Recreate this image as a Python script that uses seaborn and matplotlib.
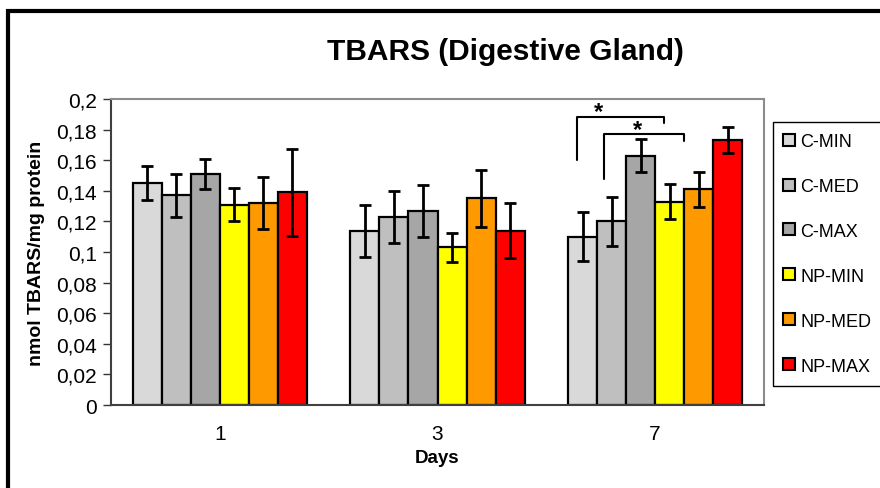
import matplotlib
matplotlib.use("Agg")
import matplotlib.pyplot as plt
import seaborn as sns
import pandas as pd
import numpy as np
from matplotlib.patches import Rectangle
from matplotlib.lines import Line2D

# ---- data ----
days = ["1", "3", "7"]
groups = ["C-MIN", "C-MED", "C-MAX", "NP-MIN", "NP-MED", "NP-MAX"]
colors = ["#D9D9D9", "#BFBFBF", "#A6A6A6", "#FFFF00", "#FF9900", "#FF0000"]

c_min = [0.145, 0.114, 0.110]
c_med = [0.137, 0.123, 0.120]
c_max = [0.151, 0.127, 0.163]
np_min = [0.131, 0.103, 0.133]
np_med = [0.132, 0.135, 0.141]
np_max = [0.139, 0.114, 0.173]

c_min_err = [0.011, 0.017, 0.016]
c_med_err = [0.014, 0.017, 0.016]
c_max_err = [0.0095, 0.017, 0.011]
np_min_err = [0.011, 0.0097, 0.0112]
np_med_err = [0.0167, 0.0186, 0.0113]
np_max_err = [0.0285, 0.0179, 0.0086]

yticks = [0, 0.02, 0.04, 0.06, 0.08, 0.1, 0.12, 0.14, 0.16, 0.18, 0.2]
ytick_labels = ["0", "0,02", "0,04", "0,06", "0,08", "0,1", "0,12", "0,14", "0,16", "0,18", "0,2"]

values = [c_min, c_med, c_max, np_min, np_med, np_max]
errors = [c_min_err, c_med_err, c_max_err, np_min_err, np_med_err, np_max_err]

rows = []
for g, vals, errs in zip(groups, values, errors):
    for d, v, e in zip(days, vals, errs):
        rows.append({"Days": d, "group": g, "value": v, "err": e})
df = pd.DataFrame(rows)

# ---- figure ----
sns.set_style("white")
plt.rcParams["font.family"] = ["Liberation Sans", "DejaVu Sans"]
plt.rcParams["text.color"] = "black"
plt.rcParams["axes.labelcolor"] = "black"
plt.rcParams["xtick.color"] = "black"
plt.rcParams["ytick.color"] = "black"

fig = plt.figure(figsize=(8.8, 4.89), dpi=100)
ax = fig.add_axes([111 / 880, 1 - 406 / 489, (764 - 111) / 880, (406 - 100) / 489])

sns.barplot(data=df, x="Days", y="value", hue="group", order=days, hue_order=groups,
            palette=colors, edgecolor="black", linewidth=1.6, width=0.8,
            errorbar=None, legend=False, ax=ax, saturation=1)

# error bars from bar positions
for container, errs in zip(ax.containers, errors):
    for bar, e in zip(container, errs):
        xc = bar.get_x() + bar.get_width() / 2
        ax.errorbar(xc, bar.get_height(), yerr=e, fmt="none", ecolor="black",
                    elinewidth=2, capsize=4, capthick=2, zorder=5)

ax.set_xlim(-0.5, 2.5)
ax.set_ylim(0, 0.2)
ax.set_yticks(yticks)
ax.set_yticklabels(ytick_labels, fontsize=15)
ax.set_xticks(range(len(days)))
ax.set_xticklabels(days, fontsize=15)
ax.set_xticks([-0.5, 0.5, 1.5, 2.5], minor=True)
ax.tick_params(axis="x", which="major", length=0, pad=14, colors="black")
ax.tick_params(axis="x", which="minor", length=6, width=1, color="#333333", direction="out")
ax.tick_params(axis="y", length=6, width=1, color="#333333", labelcolor="black",
               direction="out", pad=4, left=True)
ax.set_xlabel("Days", fontsize=13.5, fontweight="bold", labelpad=4, color="black")
ax.set_ylabel("nmol TBARS/mg protein", fontsize=14, fontweight="bold", labelpad=8, color="black")

for side in ["top", "right"]:
    ax.spines[side].set_visible(True)
    ax.spines[side].set_color("#8C8C8C")
    ax.spines[side].set_linewidth(1.5)
ax.spines["left"].set_color("#404040")
ax.spines["left"].set_linewidth(1.5)
ax.spines["bottom"].set_color("#404040")
ax.spines["bottom"].set_linewidth(1.5)

# significance brackets (day 7)
def barx(gi, off=0.0):
    b = ax.containers[gi][2]
    return b.get_x() + b.get_width() * (0.5 + off)

x1a, x1b = barx(0, -0.2), barx(3, -0.2)
ax.plot([x1a, x1a, x1b, x1b], [0.160, 0.1885, 0.1885, 0.1842], color="black", lw=1.5, clip_on=False)
ax.text(barx(0, 0.55), 0.1915, "*", ha="center", va="center", fontsize=17, fontweight="bold",
        color="black")
x2a, x2b = barx(1, -0.25), barx(3, 0.5)
ax.plot([x2a, x2a, x2b, x2b], [0.1477, 0.1771, 0.1771, 0.1725], color="black", lw=1.5, clip_on=False)
ax.text(barx(2, -0.1), 0.1803, "*", ha="center", va="center", fontsize=17, fontweight="bold",
        color="black")

# title
fig.text(505 / 880, 1 - 52 / 489, "TBARS (Digestive Gland)", ha="center", va="center",
         fontsize=21.5, fontweight="bold", color="black")

# legend
handles = [Line2D([0], [0], marker="s", linestyle="none", markersize=8,
                  markerfacecolor=c, markeredgecolor="black", markeredgewidth=1.5)
           for c in colors]
leg = fig.legend(handles, groups, loc="upper left", bbox_to_anchor=(773 / 880, 1 - 123 / 489),
                 frameon=True, fancybox=False, shadow=False, fontsize=13,
                 labelspacing=1.55, handlelength=0.6, handletextpad=0.3,
                 borderpad=0.6, borderaxespad=0, framealpha=1)
leg.get_frame().set_edgecolor("black")
leg.get_frame().set_linewidth(1.0)
for t in leg.get_texts():
    t.set_color("black")

# outer frame
fig.patches.append(Rectangle((8 / 880, -0.1), 1.2, 1 - 12 / 489 + 0.1, transform=fig.transFigure,
                             fill=False, edgecolor="black", linewidth=3, zorder=0))

fig.savefig("out.png", dpi=100)
